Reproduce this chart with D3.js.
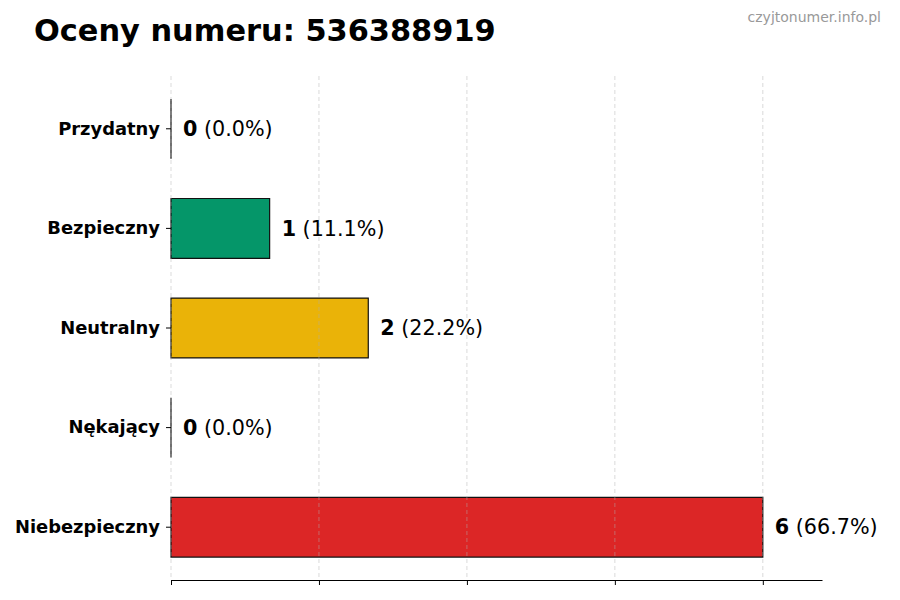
<!DOCTYPE html>
<html>
<head>
<meta charset="utf-8">
<script src="https://cdn.jsdelivr.net/npm/d3@7"></script>
<style>
  body { margin: 0; background: #fff; }
  text { font-family: "DejaVu Sans", sans-serif; }
</style>
</head>
<body>
<div id="chart"></div>
<script>
// chart data
const categories = ["Przydatny", "Bezpieczny", "Neutralny", "Nękający", "Niebezpieczny"];
const counts = [0, 1, 2, 0, 6];
const colors = ["#22c55e", "#059669", "#eab308", "#f97316", "#dc2626"];
const xTicks = [0, 1.5, 3, 4.5, 6];
const title = "Oceny numeru: 536388919";
const watermark = "czyjtonumer.info.pl";

const width = 900
const height = 600
const margin = { top: 76, right: 78, bottom: 20, left: 171 }

const total = d3.sum(counts);

const svg = d3.select("#chart")
    .append("svg")
    .attr("width", width)
    .attr("height", height)

// scales
const x = d3.scaleLinear()
    .domain([0, d3.max(counts) * 1.1])
    .range([margin.left, width - margin.right])

const y = d3.scaleBand()
    .domain(categories)
    .range([margin.top, height - margin.bottom])
    .paddingInner(0.4)
    .paddingOuter(0.23)

// bars as paths, so a zero bar still shows its edge line
svg.append("g")
    .selectAll("path")
    .data(categories)
    .join("path")
    .attr("d", (d, i) => {
        const p = d3.path()
        p.rect(x(0), y(d), x(counts[i]) - x(0), y.bandwidth())
        return p.toString()
    })
    .attr("fill", (d, i) => colors[i])
    .attr("stroke", "#111")
    .attr("stroke-width", 1.2)

// vertical grid, drawn over the bars
svg.append("g")
    .selectAll("line")
    .data(xTicks)
    .join("line")
    .attr("x1", d => x(d))
    .attr("x2", d => x(d))
    .attr("y1", margin.top)
    .attr("y2", height - margin.bottom)
    .attr("stroke", "#b0b0b0")
    .attr("stroke-opacity", 0.6)
    .attr("stroke-dasharray", "4,3")
    .attr("stroke-width", 0.8)

// bottom axis, ticks without labels
const xAxis = svg.append("g")
    .attr("transform", `translate(0,${height - margin.bottom})`)
    .call(d3.axisBottom(x).tickValues(xTicks).tickFormat("").tickSize(5).tickSizeOuter(0))
xAxis.select(".domain").attr("stroke", "#000").attr("stroke-width", 1.2)
xAxis.selectAll(".tick line").attr("stroke", "#000").attr("stroke-width", 1)

// left axis, labels only
const yAxis = svg.append("g")
    .attr("transform", `translate(${margin.left},0)`)
    .call(d3.axisLeft(y).tickSize(5).tickPadding(6))
yAxis.select(".domain").remove()
yAxis.selectAll(".tick line").attr("stroke", "#000")
yAxis.selectAll(".tick text")
    .attr("font-size", 17.9)
    .attr("font-weight", "bold")
    .attr("fill", "#000")

// value labels
const labels = svg.append("g")
    .selectAll("text")
    .data(categories)
    .join("text")
    .attr("x", (d, i) => x(counts[i]) + 12)
    .attr("y", d => y(d) + y.bandwidth() / 2)
    .attr("dy", "0.35em")
    .attr("font-size", 20.7)
    .attr("fill", "#000")
labels.append("tspan")
    .attr("font-weight", "bold")
    .text((d, i) => counts[i])
labels.append("tspan")
    .text((d, i) => " (" + (counts[i] / total * 100).toFixed(1) + "%)")

// title and watermark
svg.append("text")
    .attr("x", 34)
    .attr("y", 41)
    .attr("font-size", 30.4)
    .attr("font-weight", "bold")
    .attr("fill", "#000")
    .text(title)

svg.append("text")
    .attr("x", 881)
    .attr("y", 22)
    .attr("text-anchor", "end")
    .attr("font-size", 14)
    .attr("fill", "#999")
    .text(watermark)
</script>
</body>
</html>
